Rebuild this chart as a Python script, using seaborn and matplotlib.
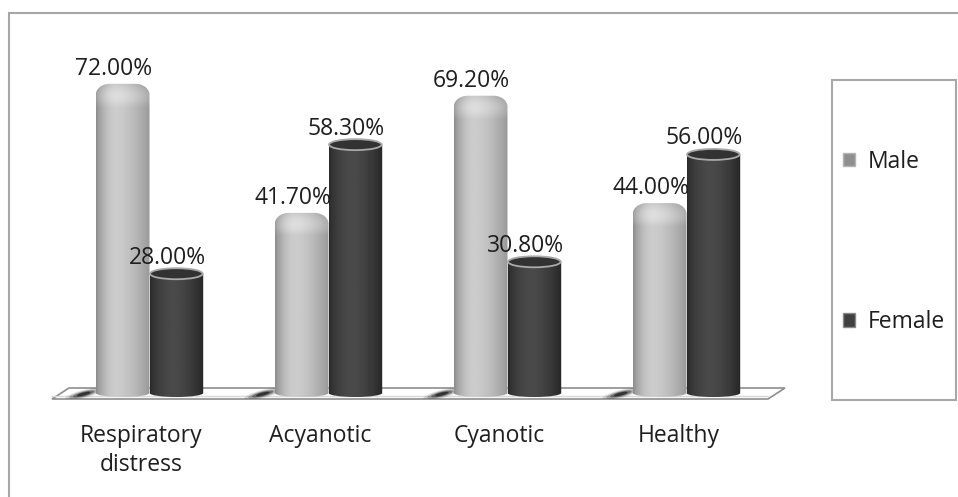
import numpy as np
import pandas as pd
import matplotlib
matplotlib.use("Agg")
import matplotlib.pyplot as plt
import matplotlib.transforms as mtransforms
from matplotlib.path import Path
from matplotlib.patches import PathPatch, Ellipse, Rectangle, Polygon, Patch
from matplotlib.lines import Line2D
import seaborn as sns

# ---------------- data ----------------
categories = ["Respiratory\ndistress", "Acyanotic", "Cyanotic", "Healthy"]
male = [72.0, 41.7, 69.2, 44.0]
female = [28.0, 58.3, 30.8, 56.0]
series = ["Male", "Female"]

df = pd.DataFrame({
    "category": categories * 2,
    "value": male + female,
    "sex": ["Male"] * len(categories) + ["Female"] * len(categories),
})

sns.set_theme(style="white")
plt.rcParams["font.family"] = ["Open Sans", "DejaVu Sans"]

FS = 16.5
W, H, DPI = 958, 497, 100
fig = plt.figure(figsize=(W / DPI, H / DPI), dpi=DPI)

# axes placement in pixels
ax_l, ax_r = 52, 768
ax_b, ax_t = 399, 30
ax = fig.add_axes([ax_l / W, (H - ax_b) / H, (ax_r - ax_l) / W, (ax_b - ax_t) / H])

male_col, female_col = "#c0c0c0", "#3c3c3c"
sns.barplot(data=df, x="category", y="value", hue="sex", order=categories,
            hue_order=series, palette=[male_col, female_col], width=0.6,
            dodge=True, legend=False, ax=ax, saturation=1)

px_per_y = 4.26
y_lo = -(ax_b - 393) / px_per_y
y_hi = y_lo + (ax_b - ax_t) / px_per_y
ax.set_xlim(-0.5, 3.5)
ax.set_ylim(y_lo, y_hi)
px_per_x = (ax_r - ax_l) / 4.0

for s in ax.spines.values():
    s.set_visible(False)
ax.set_xlabel("")
ax.set_ylabel("")
ax.set_yticks([])

# 3D depth shift for the bars
SHIFT_PX = 8
shift = mtransforms.ScaledTranslation(SHIFT_PX / DPI, 0, fig.dpi_scale_trans)
btrans = ax.transData + shift

# ---------------- floor ----------------
depth_dx = 17 / px_per_x
back_y = (393 - 388) / px_per_y
floor = Polygon([(-0.5, y_lo), (-0.5 + depth_dx, back_y), (3.5 + depth_dx, back_y), (3.5, y_lo)],
                closed=True, facecolor="white", edgecolor="#8e8e8e", lw=1.2,
                zorder=1, clip_on=False)
ax.add_patch(floor)
ax.plot([-0.5, 3.5], [y_lo + 0.75, y_lo + 0.75], color="#d8d8d8", lw=1.0, zorder=1.1,
        clip_on=False)

def profile(n, edge_l, peak, edge_r, peak_pos=0.38):
    t = np.linspace(0, 1, n)
    left = edge_l + (peak - edge_l) * np.sin(np.clip(t / peak_pos, 0, 1) * np.pi / 2) ** 0.8
    right = peak + (edge_r - peak) * (np.clip((t - peak_pos) / (1 - peak_pos), 0, 1)) ** 1.6
    return np.where(t < peak_pos, left, right)

def bar_path(x0, x1, top, rx, ry, eb):
    k = 0.5523
    xc = (x0 + x1) / 2
    hw = (x1 - x0) / 2
    verts = [(x0, 0), (x0, top - ry),
             (x0, top - ry + k * ry), (x0 + rx - k * rx, top), (x0 + rx, top),
             (x1 - rx, top),
             (x1 - rx + k * rx, top), (x1, top - ry + k * ry), (x1, top - ry),
             (x1, 0),
             (x1, -k * eb), (xc + k * hw, -eb), (xc, -eb),
             (xc - k * hw, -eb), (x0, -k * eb), (x0, 0),
             (x0, 0)]
    codes = [Path.MOVETO, Path.LINETO,
             Path.CURVE4, Path.CURVE4, Path.CURVE4,
             Path.LINETO,
             Path.CURVE4, Path.CURVE4, Path.CURVE4,
             Path.LINETO,
             Path.CURVE4, Path.CURVE4, Path.CURVE4,
             Path.CURVE4, Path.CURVE4, Path.CURVE4,
             Path.CLOSEPOLY]
    return Path(verts, codes)

eb = 4 / px_per_y
bars = [b for b in list(ax.patches) if b is not floor]
for b in bars:
    x0, w, h = b.get_x(), b.get_width(), b.get_height()
    x1 = x0 + w
    xc = x0 + w / 2
    fc = matplotlib.colors.to_hex(b.get_facecolor())
    is_male = fc == male_col
    b.set_visible(False)
    if is_male:
        rx, ry = 14 / px_per_x, 11 / px_per_y
        top = h + 2.5 / px_per_y
        prof = profile(80, 0.55, 0.80, 0.60)
    else:
        rx, ry = 1e-6, 1e-6
        top = h
        prof = profile(80, 0.17, 0.29, 0.15, 0.45)
    path = bar_path(x0, x1, top, rx, ry, eb)
    pp = PathPatch(path, facecolor="none", edgecolor="none", transform=btrans, zorder=3)
    ax.add_patch(pp)
    nrow = 80
    img = np.tile(prof, (nrow, 1))
    if is_male:
        yy = np.linspace(1, 0, nrow)[:, None]
        cap_frac = (2 * ry) / (top + eb)
        cap = np.clip((yy - (1 - cap_frac)) / cap_frac, 0, 1)
        img = img + 0.07 * np.sin(cap * np.pi)
    img = np.clip(img, 0, 1)
    im = ax.imshow(img, cmap="gray", vmin=0, vmax=1, extent=[x0, x1, -eb, top],
                   aspect="auto", interpolation="bilinear", zorder=3, transform=btrans)
    im.set_clip_path(pp)
    if not is_male:
        et = 5.5 / px_per_y
        cap = Ellipse((xc, top), w * 0.98, 2 * et, facecolor="#323232",
                      edgecolor="#a9a9a9", lw=1.3, transform=btrans, zorder=4)
        ax.add_patch(cap)
    # value label
    off = 15 if is_male else 16
    ax.annotate(f"{h:.2f}%", (xc, top), xytext=(-1, off), textcoords="offset pixels",
                ha="center", va="center", fontsize=FS, color="#1e1e1e", zorder=6)
    # floor shadow streak to the lower left of the male bars
    if is_male:
        px, py = ax.transData.transform((x0, 0))
        cx, cy = px + SHIFT_PX - 12, py - 1
        for a, sw, sh_ in [(0.12, 38, 8), (0.22, 30, 6), (0.35, 22, 4.5), (0.55, 14, 3)]:
            e = Ellipse((cx, cy), sw, sh_, angle=14, facecolor="black", edgecolor="none",
                        alpha=a, transform=mtransforms.IdentityTransform(), zorder=2)
            ax.add_patch(e)

ax.set_xlim(-0.5, 3.5)
ax.set_ylim(y_lo, y_hi)

# ticks
ax.set_xticks(range(len(categories)))
ax.set_xticklabels(categories, fontsize=FS, color="#1e1e1e")
for t in ax.get_xticklabels():
    t.set_linespacing(1.3)
ax.tick_params(axis="x", which="major", length=0, pad=18)
ax.set_xticks(np.arange(-0.5, 4, 1.0), minor=True)
ax.tick_params(axis="x", which="minor", length=5, width=1.3, color="#8e8e8e", direction="out")

# legend box
lx0, lx1, ly0, ly1 = 832, 956, 80, 400
fig.add_artist(Rectangle((lx0 / W, (H - ly1) / H), (lx1 - lx0) / W, (ly1 - ly0) / H,
                         transform=fig.transFigure, facecolor="white",
                         edgecolor="#a8a8a8", lw=1.5))
handles = [Patch(facecolor="#8f8f8f", edgecolor="#b5b5b5", label="Male"),
           Patch(facecolor="#404040", edgecolor="#8a8a8a", label="Female")]
fig.legend(handles=handles, loc="center", bbox_to_anchor=((lx0 + lx1) / 2 / W, (H - 242) / H),
           frameon=False, fontsize=FS, handlelength=0.52, handleheight=0.52,
           handletextpad=0.55, labelspacing=5.95, labelcolor="#1e1e1e")

# outer chart frame
fc_ = "#a6a6a6"
fig.add_artist(Line2D([9 / W, 9 / W], [0, (H - 13) / H], transform=fig.transFigure, color=fc_, lw=1.5))
fig.add_artist(Line2D([9 / W, 1], [(H - 13) / H, (H - 13) / H], transform=fig.transFigure, color=fc_, lw=1.5))

fig.savefig("out.png", dpi=DPI, facecolor="white")
